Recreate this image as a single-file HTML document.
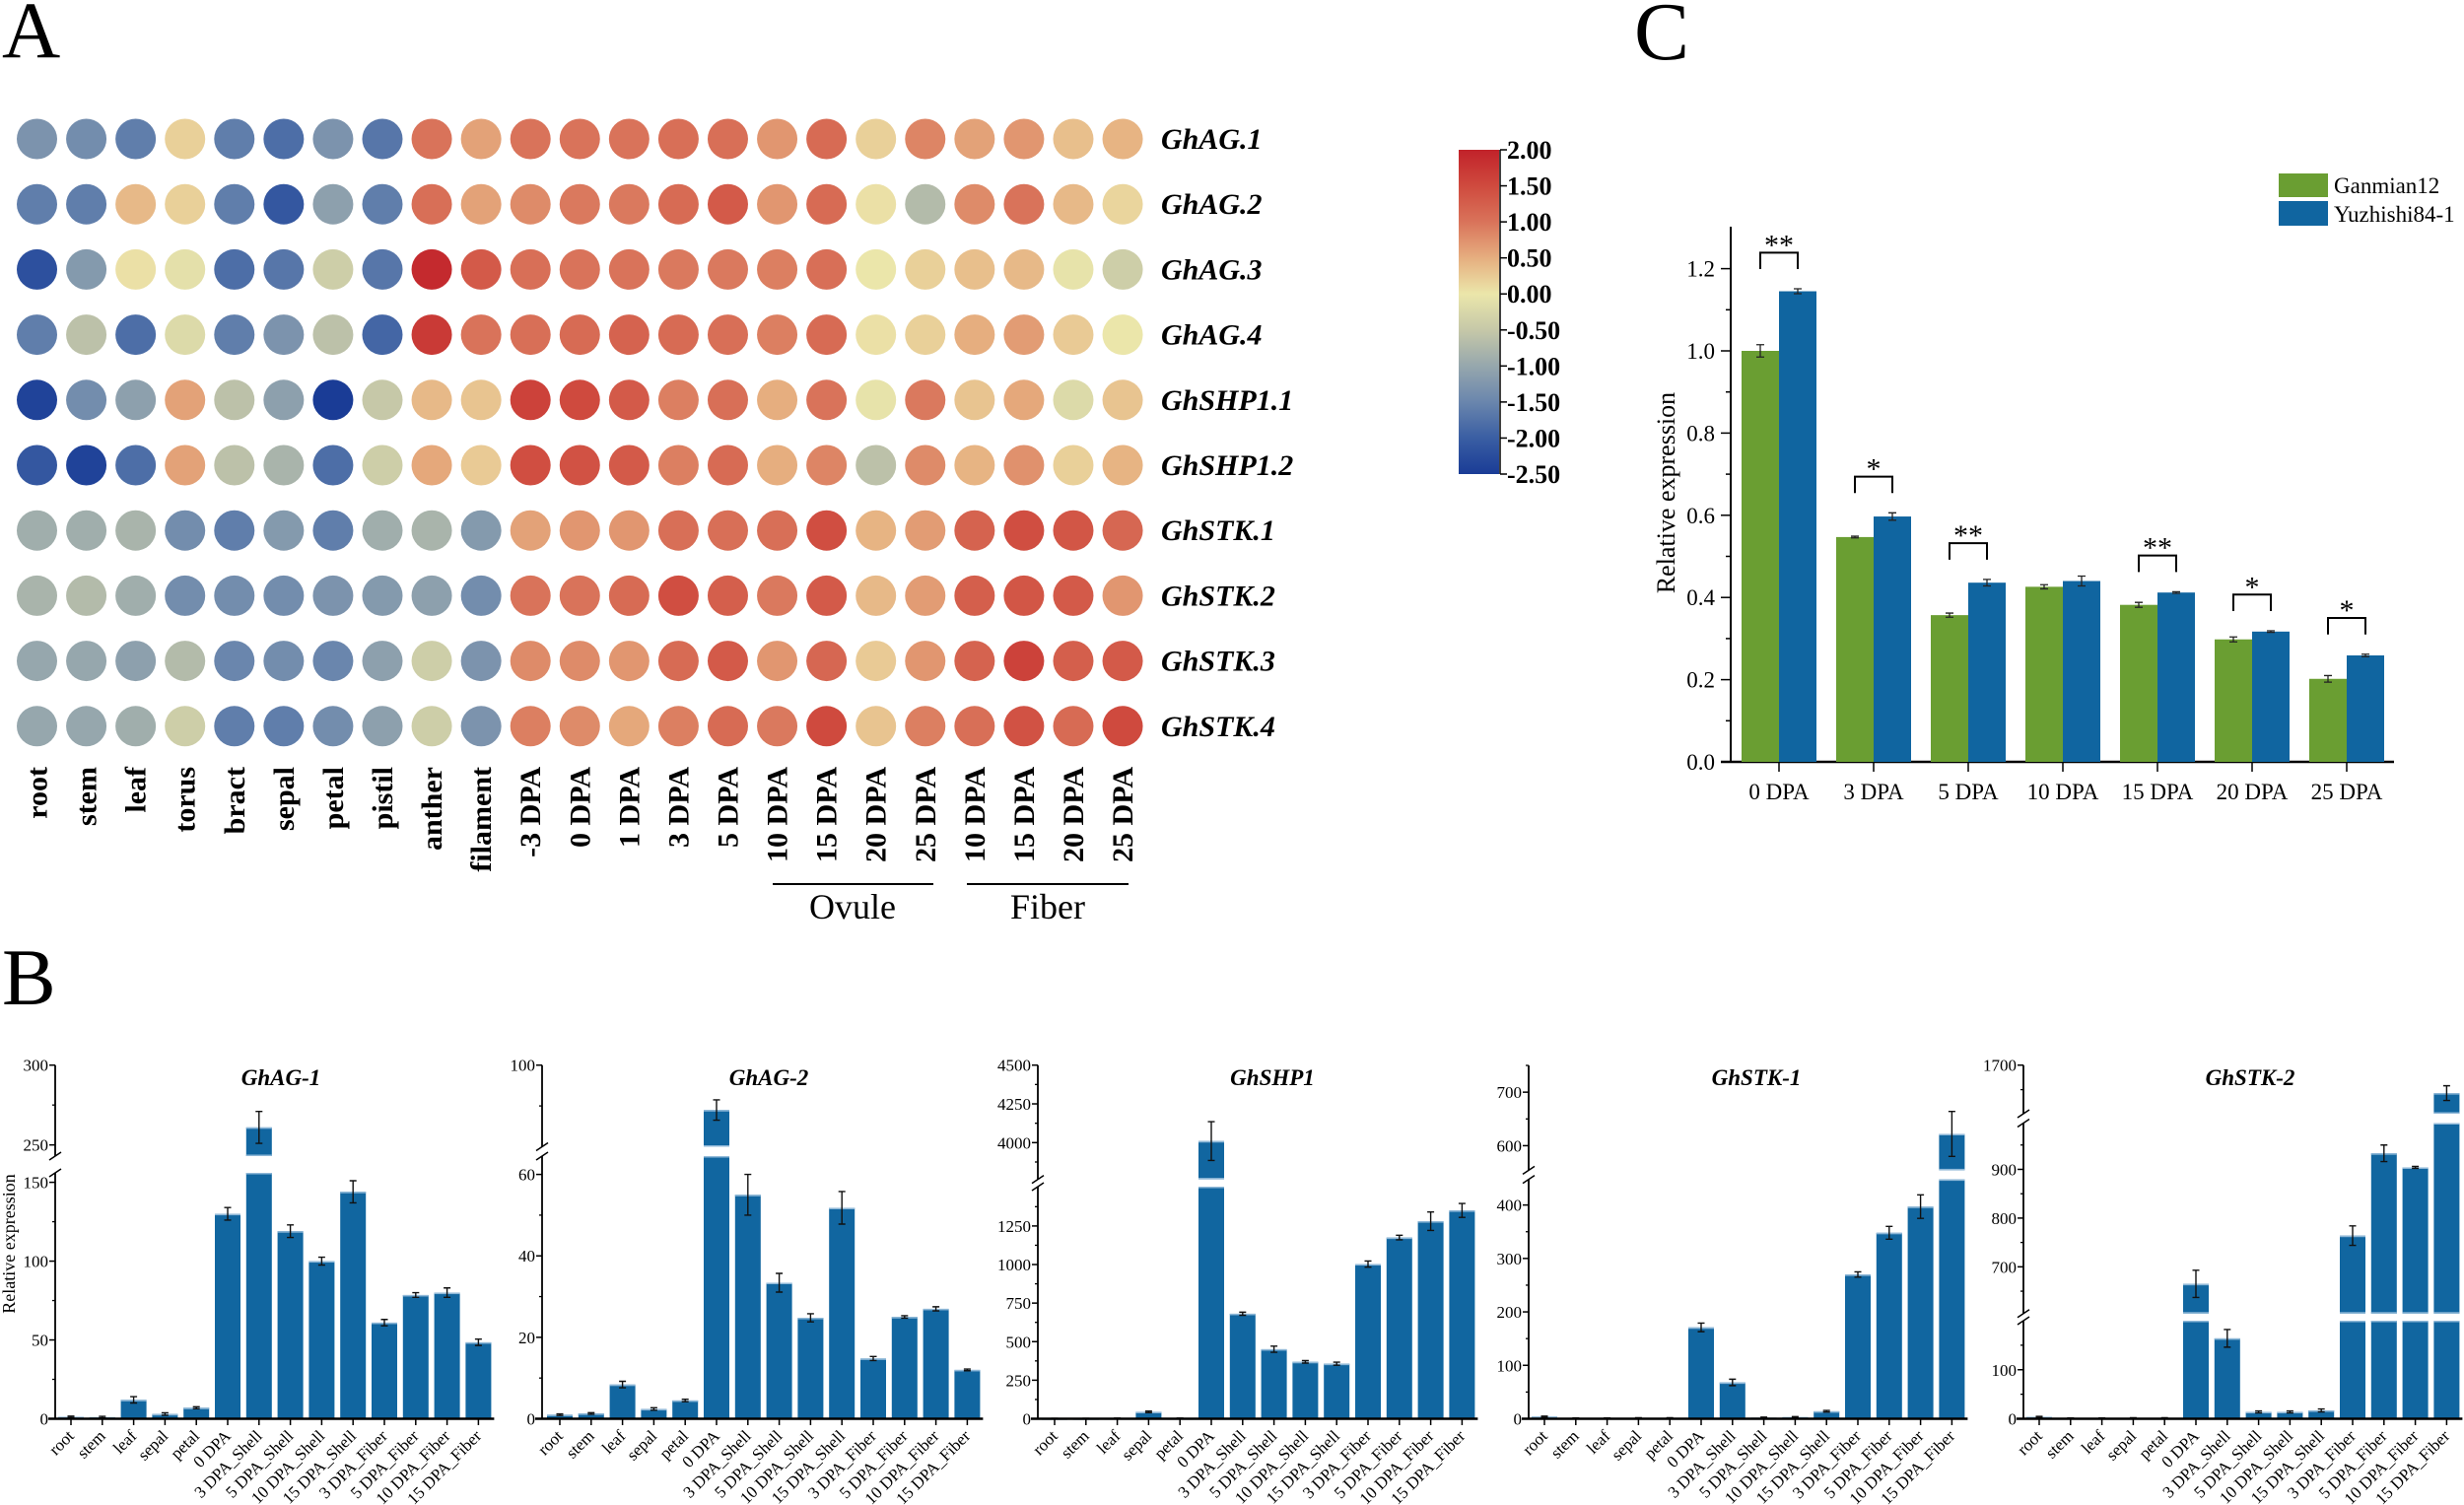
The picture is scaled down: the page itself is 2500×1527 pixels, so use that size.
<!DOCTYPE html>
<html><head><meta charset="utf-8"><title>Figure</title>
<style>
html,body{margin:0;padding:0;background:#fff;}
svg{display:block;font-family:"Liberation Serif",serif;}
</style></head>
<body>
<svg id="fig" xmlns="http://www.w3.org/2000/svg" width="2500" height="1527" viewBox="0 0 2500 1527">
<defs>
<linearGradient id="cbar" x1="0" y1="1" x2="0" y2="0"></linearGradient>
</defs>
<rect width="2500" height="1527" fill="#fff"/>
<text x="2" y="58" font-size="82">A</text>
<text x="1658" y="60" font-size="84">C</text>
<text x="2" y="1019" font-size="82">B</text>
<g id="heat"></g>
<g id="chartC"></g>
<g id="panelB"></g>
</svg>
<script>
// ---------- Panel A data ----------
const heatCols = ["root","stem","leaf","torus","bract","sepal","petal","pistil","anther","filament","-3 DPA","0 DPA","1 DPA","3 DPA","5 DPA","10 DPA","15 DPA","20 DPA","25 DPA","10 DPA","15 DPA","20 DPA","25 DPA"];
const heatGenes = ["GhAG.1","GhAG.2","GhAG.3","GhAG.4","GhSHP1.1","GhSHP1.2","GhSTK.1","GhSTK.2","GhSTK.3","GhSTK.4"];
const heatVals = [
 [-1.3,-1.4,-1.6,0.2,-1.6,-1.8,-1.3,-1.7,1.0,0.6,1.0,1.0,1.0,1.05,1.05,0.7,1.1,0.2,0.85,0.6,0.7,0.35,0.45],
 [-1.6,-1.6,0.4,0.2,-1.6,-2.1,-1.1,-1.6,1.05,0.6,0.8,0.95,0.95,1.1,1.3,0.7,1.1,0.05,-0.7,0.8,1.0,0.4,0.15],
 [-2.2,-1.2,0.05,-0.1,-1.8,-1.7,-0.4,-1.7,1.9,1.3,1.05,1.0,1.0,0.95,0.95,0.9,1.05,0.0,0.2,0.35,0.4,-0.05,-0.4],
 [-1.6,-0.6,-1.8,-0.2,-1.6,-1.3,-0.6,-1.9,1.7,1.0,1.05,1.1,1.2,1.1,1.05,0.9,1.1,0.05,0.2,0.5,0.65,0.25,0.0],
 [-2.4,-1.4,-1.1,0.6,-0.6,-1.1,-2.5,-0.5,0.4,0.3,1.6,1.5,1.3,0.9,1.05,0.5,1.0,-0.05,0.95,0.3,0.55,-0.2,0.3],
 [-2.1,-2.4,-1.8,0.6,-0.6,-0.8,-1.8,-0.4,0.55,0.25,1.45,1.4,1.3,0.9,1.1,0.5,0.85,-0.6,0.8,0.45,0.75,0.2,0.45],
 [-0.9,-0.9,-0.8,-1.4,-1.6,-1.2,-1.6,-0.9,-0.8,-1.2,0.6,0.7,0.7,1.05,1.05,1.05,1.45,0.45,0.65,1.2,1.45,1.35,1.15],
 [-0.8,-0.7,-0.9,-1.4,-1.4,-1.4,-1.3,-1.2,-1.1,-1.4,1.0,1.0,1.1,1.45,1.25,0.95,1.3,0.4,0.65,1.25,1.35,1.3,0.7],
 [-1.0,-1.0,-1.1,-0.7,-1.5,-1.4,-1.5,-1.1,-0.4,-1.3,0.8,0.8,0.7,1.1,1.3,0.7,1.15,0.25,0.7,1.2,1.6,1.25,1.3],
 [-1.0,-1.0,-0.9,-0.4,-1.6,-1.6,-1.4,-1.1,-0.4,-1.3,0.9,0.8,0.55,0.9,1.1,0.95,1.5,0.3,0.9,1.05,1.4,1.1,1.5]
];
const cbarTicks = [2.0,1.5,1.0,0.5,0.0,-0.5,-1.0,-1.5,-2.0,-2.5];
const cbarTickLabels = ["2.00","1.50","1.00","0.50","0.00","-0.50","-1.00","-1.50","-2.00","-2.50"];

// ---------- Panel C data ----------
const cCats = ["0 DPA","3 DPA","5 DPA","10 DPA","15 DPA","20 DPA","25 DPA"];
const cGanmian = [1.0,0.547,0.357,0.426,0.382,0.298,0.202];
const cGanmianErr = [0.015,0.002,0.005,0.005,0.006,0.006,0.008];
const cYuzhishi = [1.145,0.597,0.436,0.44,0.412,0.317,0.259];
const cYuzhishiErr = [0.006,0.009,0.008,0.012,0.002,0.002,0.003];
const cSig = ["**","*","**","","**","*","*"];
const cYTicks = [0,0.2,0.4,0.6,0.8,1.0,1.2];
const cYTickLabels = ["0.0","0.2","0.4","0.6","0.8","1.0","1.2"];

// ---------- Panel B data ----------
const bCats = ["root","stem","leaf","sepal","petal","0 DPA","3 DPA_Shell","5 DPA_Shell","10 DPA_Shell","15 DPA_Shell","3 DPA_Fiber","5 DPA_Fiber","10 DPA_Fiber","15 DPA_Fiber"];
const bTitles = ["GhAG-1","GhAG-2","GhSHP1","GhSTK-1","GhSTK-2"];
const agOneVals = [1.2,1,12,3,7,130,261,119,100,144,61,78.5,80,48.5];
const agOneErr = [0.5,0.5,2,0.8,0.6,4,10,4,2.5,7,2,1.5,3,2];
const agTwoVals = [1,1.3,8.4,2.4,4.5,89,55,33.4,24.8,51.8,14.8,25,27,12];
const agTwoErr = [0.2,0.2,0.8,0.3,0.3,2.5,5,2.3,1,4,0.5,0.3,0.5,0.2];
const shpVals = [2,2,3,45,3,4010,681,451,369,357,1003,1175,1281,1351];
const shpErr = [1,1,1,5,1,125,10,20,8,10,20,15,60,45];
const stkOneVals = [4,1,1,1.5,1.5,171,68,2,3,14,270,348,397,622];
const stkOneErr = [1,0.5,0.5,0.5,0.5,8,6,1,1,1.5,5,12,22,42];
const stkTwoVals = [4,1,1,1.5,1.5,665,164,14,14,17,764,933,904,1643];
const stkTwoErr = [1,0.5,0.5,0.5,0.5,28,18,2,2,3,20,17,2,15];
const agOneTicks = [0,50,100,150,250,300];
const agTwoTicks = [0,20,40,60,100];
const shpTicks = [0,250,500,750,1000,1250,4000,4250,4500];
const stkOneTicks = [0,100,200,300,400,600,700];
const stkTwoTicks = [0,100,700,800,900,1700];
const agOneMinor = [25,75,125,275];
const agTwoMinor = [10,30,50,90];
const shpMinor = [125,375,625,875,1125,1375,3875,4125,4375];
const stkOneMinor = [50,150,250,350,650,750];
const stkTwoMinor = [50,150,650,750,850,950,1650];

const NS = "http://www.w3.org/2000/svg";
function mk(parent, tag, attrs, text){
  const e = document.createElementNS(NS, tag);
  for (const k in attrs) e.setAttribute(k, attrs[k]);
  if (text !== undefined) e.textContent = text;
  parent.appendChild(e);
  return e;
}

const cStops = [[-2.5,[26,60,150]],[-2,[58,94,163]],[-1.5,[106,134,173]],[-1,[150,167,173]],[-0.5,[198,200,168]],[0,[235,230,170]],[0.5,[230,174,127]],[1,[217,115,90]],[1.5,[207,74,62]],[2,[193,34,42]]];
function colorFor(v){
  v = Math.max(-2.5, Math.min(2, v));
  for (let i=0;i<cStops.length-1;i++){
    const a=cStops[i], b=cStops[i+1];
    if (v<=b[0]){
      const t=(v-a[0])/(b[0]-a[0]);
      const c=a[1].map((x,j)=>Math.round(x+(b[1][j]-x)*t));
      return "rgb("+c.join(",")+")";
    }
  }
  return "rgb(193,34,42)";
}

// ---------- Panel A ----------
(function(){
  const g = document.getElementById("heat");
  const x0=37.5, dx=50.07, y0=141, dy=66.2, r=20.5;
  const cx = i => x0 + i*dx;
  const cy = j => y0 + j*dy;
  heatVals.forEach((row,j)=>{
    row.forEach((v,i)=>{
      const c = mk(g,"circle",{cx:cx(i),cy:cy(j),r:r,fill:colorFor(v)});
      
      
    });
    const t = mk(g,"text",{x:1178,y:cy(j)+10,"font-size":30,"font-weight":"bold","font-style":"italic"},heatGenes[j]);
    
    
  });
  heatCols.forEach((lab,i)=>{
    const t = mk(g,"text",{x:0,y:0,"font-size":30,"font-weight":"bold","text-anchor":"end",transform:"translate("+(cx(i)+10)+",778) rotate(-90)"},lab);
    
    
  });
  const l1 = mk(g,"line",{x1:784,y1:897,x2:947,y2:897,stroke:"#000","stroke-width":2});
  
  
  const l2 = mk(g,"line",{x1:981,y1:897,x2:1145,y2:897,stroke:"#000","stroke-width":2});
  
  
  const t1 = mk(g,"text",{x:865,y:932,"font-size":36,"text-anchor":"middle"},"Ovule");
  
  
  const t2 = mk(g,"text",{x:1063,y:932,"font-size":36,"text-anchor":"middle"},"Fiber");
  
  

  const grad = document.getElementById("cbar");
  cStops.forEach(s=>{
    mk(grad,"stop",{offset:((s[0]+2.5)/4.5*100)+"%","stop-color":"rgb("+s[1].join(",")+")"});
  });
  const cbTop=152, cbBot=481, cbX=1480, cbW=41;
  const cy2 = v => cbBot - (v+2.5)/4.5*(cbBot-cbTop);
  const rr = mk(g,"rect",{x:cbX,y:cbTop,width:cbW,height:cbBot-cbTop,fill:"url(#cbar)"});
  
  
  mk(g,"line",{x1:cbX+cbW+1,y1:cbTop,x2:cbX+cbW+1,y2:cbBot,stroke:"#000","stroke-width":1.5});
  cbarTicks.forEach((v,i)=>{
    mk(g,"line",{x1:cbX+cbW+1,y1:cy2(v),x2:cbX+cbW+8,y2:cy2(v),stroke:"#000","stroke-width":1.5});
    const t = mk(g,"text",{x:cbX+cbW+8,y:cy2(v)+9,"font-size":26,"font-weight":"bold"},cbarTickLabels[i]);
    
    
  });
})();

// ---------- Panel C ----------
(function(){
  const g = document.getElementById("chartC");
  const y = v => 773 - v*417;
  const xc = i => 1805 + i*96;
  const bw = 38;
  const ax = mk(g,"line",{x1:1756,y1:230,x2:1756,y2:774,stroke:"#000","stroke-width":2});
  
  
  const bx = mk(g,"line",{x1:1746,y1:773,x2:2429,y2:773,stroke:"#000","stroke-width":2.5});
  
  
  cYTicks.forEach((v,i)=>{
    mk(g,"line",{x1:1746,y1:y(v),x2:1756,y2:y(v),stroke:"#000","stroke-width":1.5});
    const t = mk(g,"text",{x:1740,y:y(v)+8,"font-size":23,"text-anchor":"end"},cYTickLabels[i]);
    
    
    if (i<cYTicks.length-1) mk(g,"line",{x1:1751,y1:y(v+0.1),x2:1756,y2:y(v+0.1),stroke:"#000","stroke-width":1.5});
  });
  const yt = mk(g,"text",{x:0,y:0,"font-size":26,"text-anchor":"middle",transform:"translate(1699,500) rotate(-90)"},"Relative expression");
  
  
  cCats.forEach((c,i)=>{
    const x=xc(i);
    const r1 = mk(g,"rect",{x:x-bw,y:y(cGanmian[i]),width:bw,height:y(0)-y(cGanmian[i]),fill:"#6a9e32"});
    
    
    const r2 = mk(g,"rect",{x:x,y:y(cYuzhishi[i]),width:bw,height:y(0)-y(cYuzhishi[i]),fill:"#1065a0"});
    
    
    [[x-bw/2,cGanmian[i],cGanmianErr[i]],[x+bw/2,cYuzhishi[i],cYuzhishiErr[i]]].forEach(e=>{
      const p = mk(g,"path",{d:"M"+(e[0]-4)+","+y(e[1]+e[2])+"h8M"+e[0]+","+y(e[1]+e[2])+"V"+y(e[1]-e[2])+"M"+(e[0]-4)+","+y(e[1]-e[2])+"h8",stroke:"#222","stroke-width":1.3,fill:"none"});
      
      
    });
    mk(g,"line",{x1:x,y1:773,x2:x,y2:783,stroke:"#000","stroke-width":1.5});
    const t = mk(g,"text",{x:x,y:811,"font-size":23,"text-anchor":"middle"},c);
    
    
    if (cSig[i]){
      const top = Math.max(cGanmian[i]+cGanmianErr[i], cYuzhishi[i]+cYuzhishiErr[i]) + 0.088;
      const b = mk(g,"path",{d:"M"+(x-bw/2)+","+y(top-0.04)+"V"+y(top)+"H"+(x+bw/2)+"V"+y(top-0.04),stroke:"#000","stroke-width":2,fill:"none"});
      
      
      const s = mk(g,"text",{x:x,y:y(top)+2,"font-size":30,"text-anchor":"middle"},cSig[i]);
      
      
    }
  });
  const lg1 = mk(g,"rect",{x:2312,y:176,width:50,height:24,fill:"#6a9e32"});
  
  
  const lg2 = mk(g,"rect",{x:2312,y:204,width:50,height:25,fill:"#1065a0"});
  
  
  const lt1 = mk(g,"text",{x:2368,y:196,"font-size":23},"Ganmian12");
  
  
  const lt2 = mk(g,"text",{x:2368,y:225,"font-size":23},"Yuzhishi84-1");
  
  
})();

// ---------- Panel B ----------
(function(){
  const g = document.getElementById("panelB");
  const layouts = [
    {ax:56, bar0:72, title:285, vals:agOneVals, err:agOneErr, ticks:agOneTicks, minor:agOneMinor,
     segs:[{lo:0,hi:156,yb:1439.5,yt:1190},{lo:243,hi:300,yb:1173,yt:1080.7}]},
    {ax:550, bar0:568, title:780, vals:agTwoVals, err:agTwoErr, ticks:agTwoTicks, minor:agTwoMinor,
     segs:[{lo:0,hi:64.5,yb:1439.5,yt:1173},{lo:80,hi:100,yb:1163.5,yt:1080.7}]},
    {ax:1053, bar0:1070, title:1291, vals:shpVals, err:shpErr, ticks:shpTicks, minor:shpMinor,
     segs:[{lo:0,hi:1505,yb:1439.5,yt:1204},{lo:3763,hi:4500,yb:1196.6,yt:1080.7}]},
    {ax:1551, bar0:1567, title:1782, vals:stkOneVals, err:stkOneErr, ticks:stkOneTicks, minor:stkOneMinor,
     segs:[{lo:0,hi:448,yb:1439.5,yt:1196.6},{lo:554,hi:750,yb:1187.4,yt:1081}]},
    {ax:2053, bar0:2069, title:2283, vals:stkTwoVals, err:stkTwoErr, ticks:stkTwoTicks, minor:stkTwoMinor,
     segs:[{lo:0,hi:200,yb:1439.5,yt:1340},{lo:604,hi:995,yb:1332.8,yt:1139.5},{lo:1601,hi:1700,yb:1130,yt:1080.7}]}
  ];
  const step = 31.8, bw = 26;
  layouts.forEach((L,k)=>{
    const sg = mk(g,"g",{});
    
    
    const yv = v => {
      for (let i=0;i<L.segs.length;i++){
        const s=L.segs[i];
        if (v<=s.hi || i===L.segs.length-1){
          if (v<s.lo && i>0){ const p=L.segs[i-1]; return p.yt; }
          return s.yb - (v-s.lo)/(s.hi-s.lo)*(s.yb-s.yt);
        }
      }
    };
    const xc = i => L.bar0 + i*step;
    const lastX = xc(bCats.length-1)+16;
    L.vals.forEach((v,i)=>{
      const x=xc(i);
      const r = mk(sg,"rect",{x:x-bw/2,y:yv(v),width:bw,height:1439.5-yv(v),fill:"#1166a0"});
      
      
      mk(sg,"rect",{x:x-bw/2,y:yv(v),width:bw,height:1.5,fill:"#8fb8d8"});
      for (let s=0;s<L.segs.length-1;s++){
        if (v>L.segs[s].hi){
          mk(sg,"rect",{x:x-bw/2-1,y:L.segs[s+1].yb,width:bw+2,height:L.segs[s].yt-L.segs[s+1].yb,fill:"#fff"});
          mk(sg,"rect",{x:x-bw/2,y:L.segs[s].yt,width:bw,height:1.5,fill:"#8fb8d8"});
          mk(sg,"rect",{x:x-bw/2,y:L.segs[s+1].yb-1.5,width:bw,height:1.5,fill:"#8fb8d8"});
        }
      }
      const e=L.err[i];
      const y1=yv(v+e), y2=yv(Math.max(0,v-e));
      const p = mk(sg,"path",{d:"M"+(x-3.5)+","+y1+"h7M"+x+","+y1+"V"+y2+"M"+(x-3.5)+","+y2+"h7",stroke:"#111","stroke-width":1.4,fill:"none"});
      
      
      mk(sg,"line",{x1:x,y1:1439.5,x2:x,y2:1446,stroke:"#000","stroke-width":1.5});
      const t = mk(sg,"text",{x:0,y:0,"font-size":17,"text-anchor":"end",transform:"translate("+(x+4)+",1458) rotate(-45)"},bCats[i]);
      
      
    });
    L.segs.forEach((s,i)=>{
      mk(sg,"line",{x1:L.ax,y1:s.yb+(i===0?1:0),x2:L.ax,y2:s.yt,stroke:"#000","stroke-width":1.8});
      if (i<L.segs.length-1){
        const yb = s.yt, yt = L.segs[i+1].yb;
        mk(sg,"line",{x1:L.ax-6,y1:yb+4,x2:L.ax+6,y2:yb-4,stroke:"#000","stroke-width":1.5});
        mk(sg,"line",{x1:L.ax-6,y1:yt+4,x2:L.ax+6,y2:yt-4,stroke:"#000","stroke-width":1.5});
      }
    });
    L.ticks.forEach(v=>{
      mk(sg,"line",{x1:L.ax-6,y1:yv(v),x2:L.ax,y2:yv(v),stroke:"#000","stroke-width":1.5});
      const t = mk(sg,"text",{x:L.ax-7,y:yv(v)+6,"font-size":17,"text-anchor":"end"},String(v));
      
      
    });
    L.minor.forEach(v=>{
      mk(sg,"line",{x1:L.ax-3,y1:yv(v),x2:L.ax,y2:yv(v),stroke:"#000","stroke-width":1.3});
    });
    const xa = mk(sg,"line",{x1:L.ax-7,y1:1439.5,x2:Math.min(lastX,2500),y2:1439.5,stroke:"#000","stroke-width":2.5});
    
    
    const tt = mk(sg,"text",{x:L.title,y:1101,"font-size":23,"font-weight":"bold","font-style":"italic","text-anchor":"middle"},bTitles[k]);
    
    
  });
  const yt = mk(g,"text",{x:0,y:0,"font-size":18,"text-anchor":"middle",transform:"translate(15,1262) rotate(-90)"},"Relative expression");
  
  
})();
</script>
</body></html>
